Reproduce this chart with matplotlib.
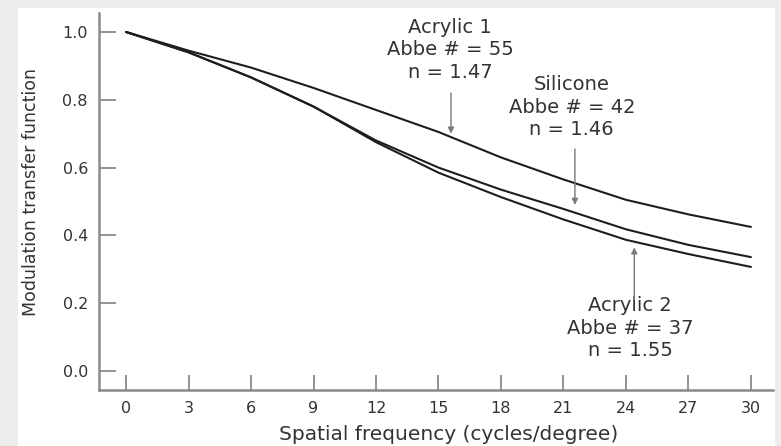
import matplotlib
matplotlib.use("Agg")
import matplotlib.pyplot as plt
from matplotlib.patches import Rectangle

# ---- data ----
freq = [0, 3, 6, 9, 12, 15, 18, 21, 24, 27, 30]
acrylic1 = [1.0, 0.945, 0.895, 0.835, 0.77, 0.705, 0.63, 0.565, 0.505, 0.462, 0.425]
silicone = [1.0, 0.94, 0.866, 0.78, 0.68, 0.60, 0.535, 0.478, 0.418, 0.372, 0.336]
acrylic2 = [1.0, 0.94, 0.866, 0.78, 0.675, 0.585, 0.513, 0.447, 0.387, 0.345, 0.307]

xticks = [0, 3, 6, 9, 12, 15, 18, 21, 24, 27, 30]
yticks = [0.0, 0.2, 0.4, 0.6, 0.8, 1.0]
ytick_labels = ["0.0", "0.2", "0.4", "0.6", "0.8", "1.0"]

label_texts = ["Acrylic 1\nAbbe # = 55\nn = 1.47",
               "Silicone\nAbbe # = 42\nn = 1.46",
               "Acrylic 2\nAbbe # = 37\nn = 1.55"]
label_x = [15.55, 21.4, 24.2]
label_y = [0.947, 0.778, 0.126]
arrow_x = [15.6, 21.55, 24.4]
arrow_from = [0.82, 0.655, 0.21]
arrow_to = [0.70, 0.49, 0.365]

xlabel = "Spatial frequency (cycles/degree)"
ylabel = "Modulation transfer function"

plt.rcParams["font.family"] = ["DejaVu Sans"]

fig = plt.figure(figsize=(7.81, 4.46), dpi=100, facecolor="#ededed")
fig.add_artist(Rectangle((18 / 781, 0), (775 - 18) / 781, 1 - 8 / 446,
                         transform=fig.transFigure, facecolor="white",
                         edgecolor="none", zorder=-5))

ax = fig.add_axes([99 / 781, 1 - 390 / 446, (773 - 99) / 781, (390 - 13) / 446])
ax.set_zorder(2)
ax.set_facecolor("none")

line_kw = dict(color="#1e1e1e", lw=1.5, solid_capstyle="round")
ax.plot(freq, acrylic1, **line_kw)
ax.plot(freq, silicone, **line_kw)
ax.plot(freq, acrylic2, **line_kw)

ax.set_xlim(-1.3, 31.06)
ax.set_ylim(-0.056, 1.056)

for s in ("top", "right"):
    ax.spines[s].set_visible(False)
for s in ("left", "bottom"):
    ax.spines[s].set_color("#8a8a8a")
    ax.spines[s].set_linewidth(1.8)

ax.set_xticks(xticks)
ax.set_xticklabels([str(t) for t in xticks])
ax.set_yticks(yticks)
ax.set_yticklabels(ytick_labels)
ax.tick_params(axis="both", direction="in", color="#8a8a8a", width=1.3,
               labelsize=11.5, labelcolor="#333333")
ax.tick_params(axis="x", length=11, pad=8)
ax.tick_params(axis="y", length=12, pad=8)

ax.set_xlabel(xlabel, fontsize=14.5, color="#333333")
ax.xaxis.set_label_coords(0.518, -0.093)
ax.set_ylabel(ylabel, fontsize=12.5, color="#333333")
ax.yaxis.set_label_coords(-0.087, 0.525)

for txt, tx, ty, axx, a0, a1 in zip(label_texts, label_x, label_y,
                                    arrow_x, arrow_from, arrow_to):
    ax.text(tx, ty, txt, ha="center", va="center", fontsize=14,
            color="#333333", linespacing=1.22)
    ax.annotate("", xy=(axx, a1), xytext=(axx, a0),
                arrowprops=dict(arrowstyle="-|>", color="#7a7a7a", lw=1.0,
                                mutation_scale=9, shrinkA=0, shrinkB=0))

fig.savefig("out.png", dpi=100, facecolor=fig.get_facecolor())
